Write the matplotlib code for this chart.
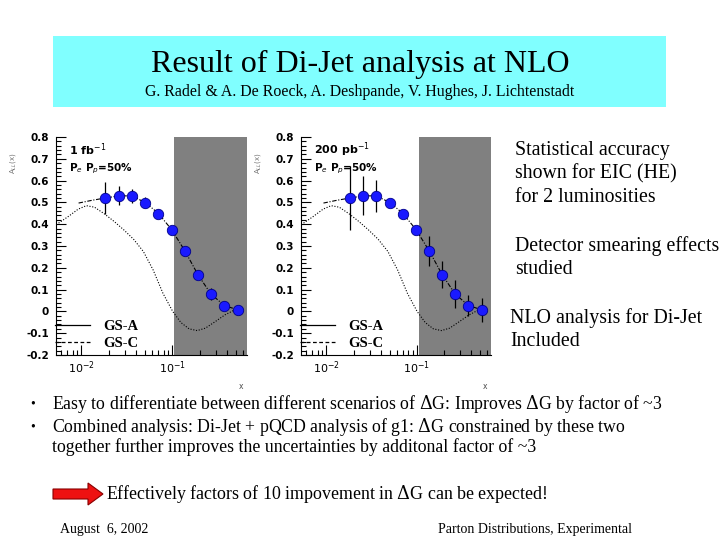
import matplotlib
matplotlib.use("Agg")
import matplotlib.pyplot as plt
from matplotlib.patches import FancyArrow, Rectangle
from matplotlib.ticker import MultipleLocator, LogLocator, NullFormatter, FuncFormatter

# --- data ---
x_pts = [0.0182, 0.0257, 0.0355, 0.0501, 0.070, 0.098, 0.137, 0.191, 0.265, 0.372, 0.525]
asym = [0.52, 0.53, 0.53, 0.498, 0.449, 0.374, 0.278, 0.168, 0.080, 0.027, 0.007]
err_1fb = [0.072, 0.043, 0.032, 0.025, 0.020, 0.018, 0.012, 0.020, 0.027, 0.020, 0.020]
err_200pb = [0.147, 0.090, 0.073, 0.015, 0.015, 0.015, 0.070, 0.062, 0.063, 0.050, 0.054]

gsa_x = [0.0093, 0.0132, 0.0182, 0.0257, 0.0355, 0.0501, 0.070, 0.098, 0.137, 0.191, 0.265, 0.372, 0.525]
gsa_y = [0.497, 0.510, 0.520, 0.530, 0.530, 0.500, 0.450, 0.375, 0.278, 0.168, 0.080, 0.027, 0.007]

gsc_x = [0.0056, 0.0072, 0.0092, 0.0113, 0.0139, 0.0178, 0.0228, 0.0292, 0.0374, 0.0479,
         0.0614, 0.0787, 0.1007, 0.1239, 0.1524, 0.1871, 0.2301, 0.2951, 0.3776, 0.4842]
gsc_y = [0.405, 0.436, 0.469, 0.485, 0.478, 0.448, 0.413, 0.374, 0.331, 0.275,
         0.190, 0.083, 0.000, -0.051, -0.080, -0.088, -0.077, -0.047, -0.016, 0.007]

panels = [("1 fb$^{-1}$", err_1fb), ("200 pb$^{-1}$", err_200pb)]
shade_from = 0.105
xmin, xmax = 10 ** -2.28, 10 ** -0.18

W, H = 720, 540
fig = plt.figure(figsize=(7.2, 5.4), dpi=100)
serif = "Liberation Serif"


def fx(px):
    return px / W


def fy(py):
    return 1 - py / H


# header box
fig.patches.append(Rectangle((fx(53), fy(107)), fx(666) - fx(53), fy(36) - fy(107),
                             transform=fig.transFigure, facecolor="#80ffff", edgecolor="none"))
fig.text(0.5, fy(64), "Result of Di-Jet analysis at NLO", family=serif, fontsize=23,
         ha="center", va="center")
fig.text(0.5, fy(92), "G. Radel & A. De Roeck, A. Deshpande, V. Hughes, J. Lichtenstadt",
         family=serif, fontsize=11.4, ha="center", va="center")

# the two plots
lefts = [56, 301]
widths = [191, 190]
for (lumi, err), left, w in zip(panels, lefts, widths):
    ax = fig.add_axes([fx(left), fy(355), fx(w), fy(137) - fy(355)])
    ax.set_xscale("log")
    ax.set_xlim(xmin, xmax)
    ax.set_ylim(-0.2, 0.8)
    ax.axvspan(shade_from, xmax, color="#808080", lw=0, zorder=0)
    ax.plot(gsa_x, gsa_y, color="black", lw=0.8, ls=(0, (4, 1.5, 1, 1.5)), zorder=2)
    ax.plot(gsc_x, gsc_y, color="black", lw=0.8, ls=(0, (1, 1.5)), zorder=2)
    ax.errorbar(x_pts, asym, yerr=err, fmt="o", ms=7.5, mfc="#1a1aff", mec="#00008b",
                mew=0.6, ecolor="black", elinewidth=0.9, capsize=0, zorder=3)
    # legend
    h1, = ax.plot([], [], color="black", lw=0.9, label="GS-A")
    h2, = ax.plot([], [], color="black", lw=0.9, ls=(0, (3, 2)), label="GS-C")
    ax.legend(handles=[h1, h2], loc="lower left", bbox_to_anchor=(-0.03, 0.0),
              frameon=False, borderaxespad=0.0, borderpad=0.35, handlelength=2.4,
              handletextpad=0.9, labelspacing=0.25,
              prop={"family": serif, "weight": "bold", "size": 10.5})
    ax.text(0.07, 0.94, lumi, transform=ax.transAxes, fontsize=8, fontweight="bold",
            va="center")
    ax.text(0.07, 0.855, "P$_e$ P$_p$=50%", transform=ax.transAxes, fontsize=7.5,
            fontweight="bold", va="center")

    for s in ["top", "right"]:
        ax.spines[s].set_visible(False)
    ax.yaxis.set_major_locator(MultipleLocator(0.1))
    ax.yaxis.set_minor_locator(MultipleLocator(0.02))
    ax.yaxis.set_major_formatter(FuncFormatter(lambda v, p: f"{v:g}"))
    ax.xaxis.set_major_locator(LogLocator(base=10, numticks=10))
    ax.xaxis.set_minor_locator(LogLocator(base=10, subs=range(2, 10), numticks=20))
    ax.xaxis.set_minor_formatter(NullFormatter())
    ax.tick_params(which="both", direction="in", labelsize=7.5, width=0.8)
    ax.tick_params(which="major", length=7)
    ax.tick_params(which="minor", length=3.5)
    ax.tick_params(axis="y", pad=5)
    ax.tick_params(axis="x", labelsize=8)
    for lab in ax.get_yticklabels():
        lab.set_fontweight("bold")

    ax.set_ylabel("A$_{LL}$(x)", fontsize=5, color="0.45", rotation=90)
    ax.yaxis.set_label_coords(-0.2, 0.88)
    ax.set_xlabel("x", fontsize=5.5, color="0.3")
    ax.xaxis.set_label_coords(0.97, -0.125)

# side comments
side = [(515, 150, "Statistical accuracy"), (515, 174, "shown for EIC (HE)"),
        (515, 197, "for 2 luminosities"), (515, 246, "Detector smearing effects"),
        (515, 270, "studied"), (510, 318, "NLO analysis for Di-Jet"), (510, 342, "Included")]
for px, py, t in side:
    fig.text(fx(px), fy(py), t, family=serif, fontsize=14.3, va="center")

# bullets
bullets = [(404, "Easy to differentiate between different scenarios of $\\Delta$G: Improves $\\Delta$G by factor of ~3"),
           (427, "Combined analysis: Di-Jet + pQCD analysis of g1: $\\Delta$G constrained by these two")]
for py, t in bullets:
    fig.text(fx(30), fy(py), "\u2022", family=serif, fontsize=10, va="center")
    fig.text(fx(52), fy(py), t, family=serif, fontsize=12.8, va="center",
             math_fontfamily="dejavuserif")
fig.text(fx(52), fy(447), "together further improves the uncertainties by additonal factor of ~3",
         family=serif, fontsize=12.8, va="center")

fig.patches.append(FancyArrow(fx(53), fy(494), fx(35), 0, width=10 / H, head_width=22 / H,
                              head_length=15 / W, length_includes_head=False,
                              transform=fig.transFigure, facecolor="#ee1111",
                              edgecolor="#880000", lw=0.8))
fig.text(fx(106), fy(494), "Effectively factors of 10 impovement in $\\Delta$G can be expected!",
         family=serif, fontsize=12.9, va="center", math_fontfamily="dejavuserif")

fig.text(fx(60), fy(529), "August  6, 2002", family=serif, fontsize=10, va="center")
fig.text(fx(632), fy(529), "Parton Distributions, Experimental", family=serif, fontsize=10,
         va="center", ha="right")

fig.savefig("out.png", dpi=100)
